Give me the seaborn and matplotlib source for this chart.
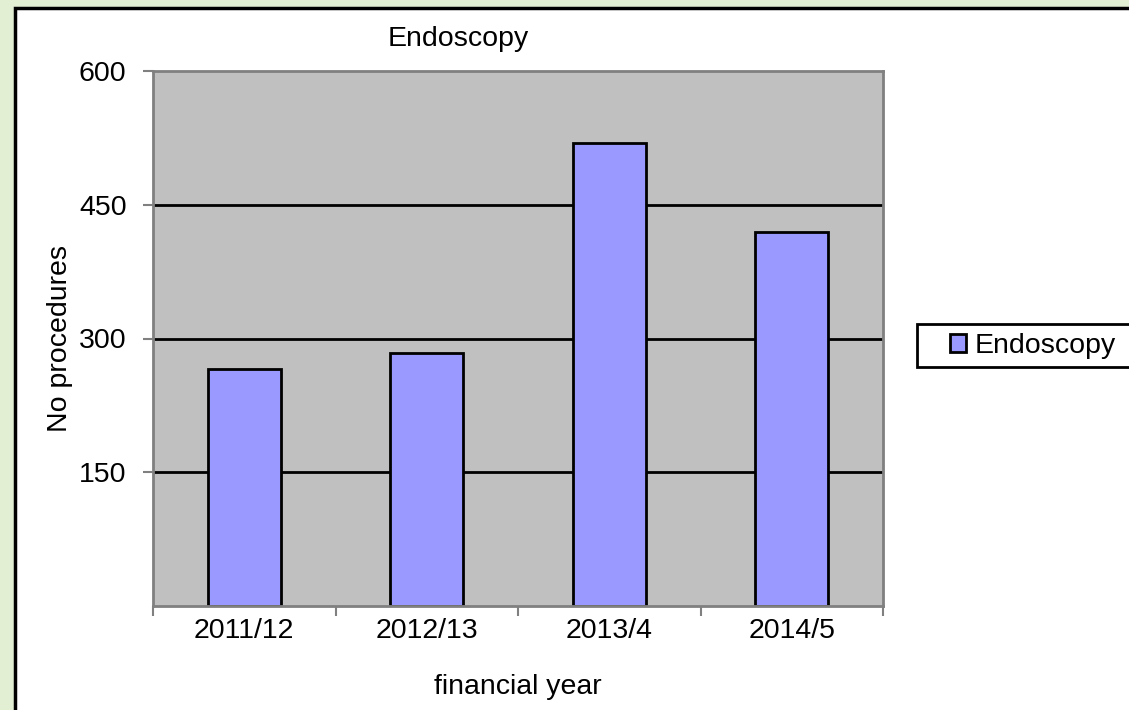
import matplotlib
matplotlib.use("Agg")
import matplotlib.pyplot as plt
import seaborn as sns
import pandas as pd
from matplotlib.patches import Rectangle

categories = ["2011/12", "2012/13", "2013/4", "2014/5"]
values = [266, 284, 519, 419]
series_name = "Endoscopy"
yticks = [150, 300, 450, 600]

sns.set_style("white")
plt.rcParams['font.family'] = ['Liberation Sans', 'DejaVu Sans']
plt.rcParams['text.color'] = 'black'
plt.rcParams['axes.labelcolor'] = 'black'
plt.rcParams['xtick.color'] = 'black'
plt.rcParams['ytick.color'] = 'black'

FS = 20.5
W, H = 1129, 710
fig = plt.figure(figsize=(W / 100, H / 100), dpi=100, facecolor="#E2EFD3")
# white chart area with black border
fig.patches.append(Rectangle((15 / W, -0.05), 1.2, (H - 8) / H + 0.05,
                             transform=fig.transFigure, facecolor="white",
                             edgecolor="black", linewidth=2.5, zorder=-10))
# legend frame (extends past right edge as in the reference)
fig.patches.append(Rectangle((917 / W, 1 - 367 / H), 0.3, 43 / H,
                             transform=fig.transFigure, facecolor="white",
                             edgecolor="black", linewidth=2, zorder=-5))

ax = fig.add_axes([153 / W, 1 - 606 / H, (883 - 153) / W, (606 - 71) / H])
ax.set_facecolor("#C0C0C0")

df = pd.DataFrame({"year": categories, "value": values, "series": series_name})
sns.barplot(data=df, x="year", y="value", hue="series", ax=ax,
            palette=["#9999FF"], edgecolor="black", linewidth=2,
            width=0.4, saturation=1, legend=True)

ax.set_ylim(0, 600)
ax.set_xlim(-0.5, 3.5)
ax.set_yticks(yticks)
ax.set_yticklabels([str(v) for v in yticks], fontsize=FS, color="black")
for v in yticks[:-1]:
    ax.axhline(v, color="black", linewidth=2, zorder=0.5)
ax.set_axisbelow(True)

ax.set_xticks(range(len(categories)))
ax.set_xticklabels(categories, fontsize=FS, color="black")
ax.tick_params(axis="x", length=0, pad=9)
ax.tick_params(axis="y", length=7, width=1.5, color="#808080", labelcolor="black", pad=12, left=True)
# minor ticks at category boundaries
ax.set_xticks([-0.5, 0.5, 1.5, 2.5, 3.5], minor=True)
ax.tick_params(axis="x", which="minor", length=7, width=1.5, color="#808080", bottom=True)

for side in ["left", "bottom", "top", "right"]:
    ax.spines[side].set_visible(True)
    ax.spines[side].set_color("#808080")
    ax.spines[side].set_linewidth(2)

ax.set_xlabel("financial year", fontsize=FS, labelpad=21, color="black")
ax.set_ylabel("No procedures", fontsize=FS, labelpad=4, color="black")
ax.set_title("Endoscopy", fontsize=FS, x=(458 - 153) / (883 - 153), pad=18, color="black")

leg = ax.legend(loc="center left", bbox_to_anchor=(950 / W, 1 - 346 / H),
                bbox_transform=fig.transFigure, fontsize=FS, frameon=False,
                handlelength=0.55, handleheight=0.55, handletextpad=0.3,
                borderpad=0.0, borderaxespad=0)
for t in leg.get_texts():
    t.set_color("black")

fig.savefig("out.png", dpi=100, facecolor=fig.get_facecolor())
